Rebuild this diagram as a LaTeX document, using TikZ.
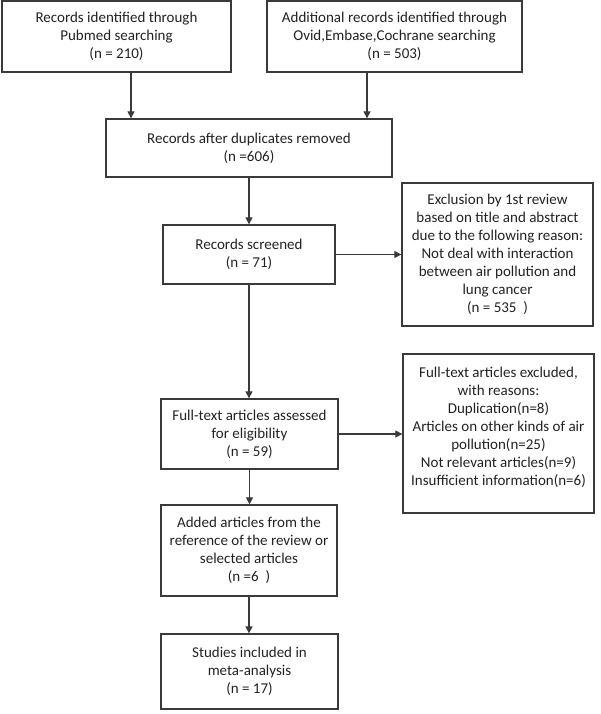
\documentclass[tikz,border=0pt]{standalone}
\usepackage{fontspec}
\setmainfont{Carlito}
\usetikzlibrary{arrows.meta,calc}
\definecolor{ln}{HTML}{3A3A3A}
\definecolor{tx}{HTML}{222222}
\begin{document}
\begin{tikzpicture}[x=1pt,y=-1pt,
  box/.style={draw=ln,line width=1.3pt,inner sep=0pt,align=center,text=tx,
    font=\fontsize{15}{18}\selectfont},
  lbl/.style={inner sep=0pt,align=center,text=tx,font=\fontsize{15}{18}\selectfont},
  arr/.style={draw=ln,line width=1.2pt,-{Triangle[length=7pt,width=7pt]}}]
\useasboundingbox (0,0) rectangle (600,714);
\node[box,minimum width=229pt,minimum height=71pt] (b1) at (116.5,36.5)
  {Records identified through\\Pubmed searching\\(n = 210)};
\node[box,minimum width=255pt,minimum height=71pt] (b2) at (394.5,36.5)
  {Additional records identified through\\Ovid,Embase,Cochrane searching\\(n = 503)};
\node[box,minimum width=286pt,minimum height=58pt] (b3) at (249,148)
  {Records after duplicates removed\\(n =606)};
\node[box,minimum width=172pt,minimum height=59pt] (b4) at (249,254.5)
  {Records screened\\(n = 71)};
\node[box,minimum width=191pt,minimum height=143pt] (e1) at (497.5,254.5)
  {Exclusion by 1st review\\based on title and abstract\\due to the following reason:\\Not deal with interaction\\between air pollution and\\lung cancer\\(n = 535\ \ )};
\node[box,minimum width=177pt,minimum height=70pt] (b5) at (249.5,434)
  {Full-text articles assessed\\for eligibility\\(n = 59)};
\node[box,minimum width=191pt,minimum height=159pt] (e2) at (498.5,433.5) {};
\node[lbl] (e2t) at ([yshift=6pt]e2.center)
  {Full-text articles excluded,\\with reasons:\\Duplication(n=8)\\Articles on other kinds of air\\pollution(n=25)\\Not relevant articles(n=9)\\Insufficient information(n=6)};
\node[box,minimum width=176pt,minimum height=91pt] (b6) at (249,550.5)
  {Added articles from the\\reference of the review or\\selected articles\\(n =6\ \ )};
\node[box,minimum width=177pt,minimum height=75pt] (b7) at (249.5,671.5)
  {Studies included in\\meta-analysis\\(n = 17)};
\draw[arr] ([xshift=14.5pt]b1.south) -- ([xshift=14.5pt]b1.south |- b3.north);
\draw[arr] ([xshift=-27.5pt]b2.south) -- ([xshift=-27.5pt]b2.south |- b3.north);
\draw[arr] (b3.south) -- (b3.south |- b4.north);
\draw[arr] (b4.east) -- (b4.east -| e1.west);
\draw[arr] (b4.south) -- (b4.south |- b5.north);
\draw[arr] (b5.east) -- (b5.east -| e2.west);
\draw[arr] (b5.south) -- (b5.south |- b6.north);
\draw[arr] (b6.south) -- (b6.south |- b7.north);
\end{tikzpicture}
\end{document}
